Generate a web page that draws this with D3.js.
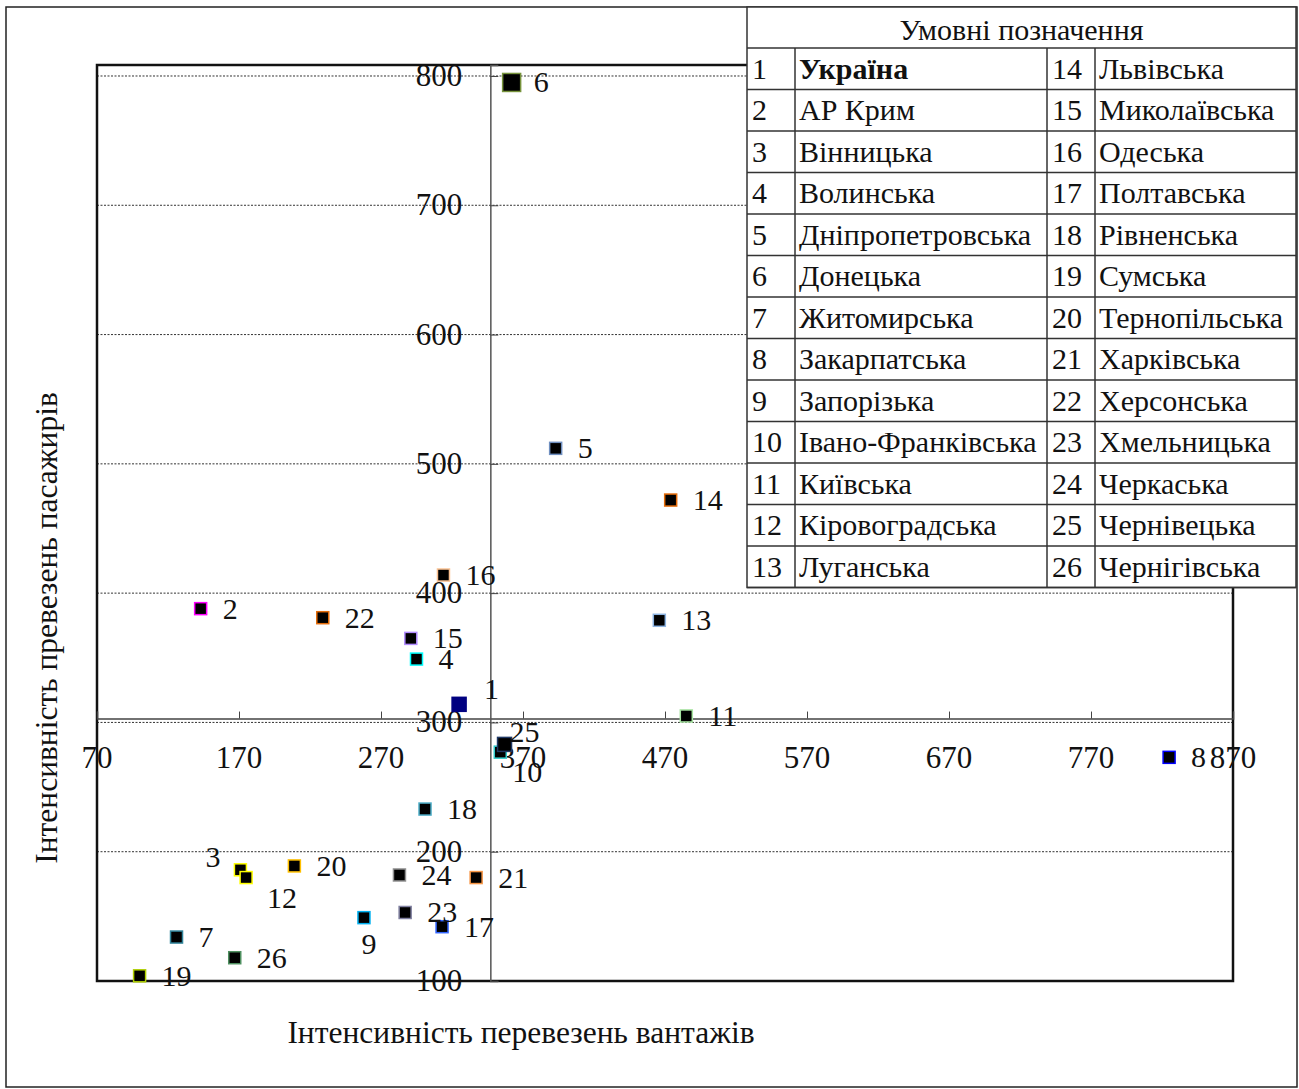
<!DOCTYPE html>
<html>
<head>
<meta charset="utf-8">
<script src="https://cdn.jsdelivr.net/npm/d3@7/dist/d3.min.js"></script>
<style>
  body { margin: 0; background: #fff; }
  text { font-family: "Liberation Serif", "Times New Roman", serif; fill: #111; }
</style>
</head>
<body>
<svg id="chart" width="1299" height="1089"></svg>
<script>
// region numbers, freight intensity (x) and passenger intensity (y)
const regionIds = [1, 2, 3, 4, 5, 6, 7, 8, 9, 10, 11, 12, 13, 14, 15, 16, 17, 18, 19, 20, 21, 22, 23, 24, 25, 26];
const cargo = [325, 143, 171, 295, 393, 362, 126, 825, 258, 354, 485, 175, 466, 474, 291, 314, 313, 301, 100, 209, 337, 229, 287, 283, 357, 167];
const passengers = [314, 388, 186, 349, 512, 795, 134, 273, 149, 277, 305, 180, 379, 472, 365, 414, 142, 233, 104, 189, 180, 381, 153, 182, 283, 118];
const regionNames = ["Україна", "АР Крим", "Вінницька", "Волинська", "Дніпропетровська", "Донецька",
  "Житомирська", "Закарпатська", "Запорізька", "Івано-Франківська", "Київська", "Кіровоградська",
  "Луганська", "Львівська", "Миколаївська", "Одеська", "Полтавська", "Рівненська", "Сумська",
  "Тернопільська", "Харківська", "Херсонська", "Хмельницька", "Черкаська", "Чернівецька", "Чернігівська"];
const xTickValues = [70, 170, 270, 370, 470, 570, 670, 770, 870];
const yTickValues = [100, 200, 300, 400, 500, 600, 700, 800];
const crossX = 347, crossY = 303;

// styling for the marks
const markStroke = ["#000080", "#ff00ff", "#ffff00", "#00ffff", "#6f8fc0", "#77933c", "#31859c", "#0000ff",
  "#00b0f0", "#33cccc", "#a6e3a0", "#ffff00", "#8db4e2", "#e46c0a", "#b28cff", "#fac090", "#3366ff",
  "#4bacc6", "#b0d000", "#ffc000", "#f79646", "#e46c0a", "#8080a0", "#909090", "#1f3864", "#4f9060"];
const labelShift = { 1: [25, -15], 3: [-20, -13, "end"], 12: [21, 20], 9: [5, 26, "middle"],
  10: [12, 20], 25: [5, -12] };

const svg = d3.select("#chart");
const plot = { left: 97, top: 65, right: 1233, bottom: 981 };

const x = d3.scaleLinear().domain([70, 870]).range([plot.left, plot.right]);
const y = d3.scaleLinear().domain([100, 808.5]).range([plot.bottom, plot.top]);

// outer frame
svg.append("rect").attr("x", 6).attr("y", 7).attr("width", 1291).attr("height", 1080)
  .attr("fill", "#fff").attr("stroke", "#222").attr("stroke-width", 1.5);

// gridlines
svg.append("g").selectAll("line").data(yTickValues).join("line")
  .attr("x1", plot.left).attr("x2", plot.right)
  .attr("y1", d => y(d)).attr("y2", d => y(d))
  .attr("stroke", "#333").attr("stroke-width", 1).attr("stroke-dasharray", "2,1.5");

// plot area border
svg.append("rect").attr("x", plot.left).attr("y", plot.top)
  .attr("width", plot.right - plot.left).attr("height", plot.bottom - plot.top)
  .attr("fill", "none").attr("stroke", "#111").attr("stroke-width", 2.5);

// crossing axes
const xAxis = d3.axisTop(x).tickValues(xTickValues).tickSize(7).tickFormat("");
const gx = svg.append("g").attr("transform", `translate(0,${y(crossY)})`).call(xAxis);
gx.select(".domain").attr("stroke", "#444").attr("stroke-width", 1.5);
gx.selectAll(".tick line").attr("stroke", "#444");

const yAxis = d3.axisRight(y).tickValues(yTickValues).tickSize(8).tickFormat("");
const gy = svg.append("g").attr("transform", `translate(${x(crossX)},0)`).call(yAxis);
gy.select(".domain").attr("stroke", "#555").attr("stroke-width", 1.5);
gy.selectAll(".tick line").attr("stroke", "#444");

// tick labels
svg.append("g").selectAll("text").data(xTickValues).join("text")
  .attr("x", d => x(d)).attr("y", y(crossY) + 49)
  .attr("text-anchor", "middle").attr("font-size", 31).text(d => d);

svg.append("g").selectAll("text").data(yTickValues).join("text")
  .attr("x", x(crossX) - 28).attr("y", d => y(d) + 10)
  .attr("text-anchor", "end").attr("font-size", 31).text(d => d);

// points
const pts = regionIds.map((id, i) => ({ id, cx: cargo[i], cy: passengers[i], i }));
const sizeOf = d => d.id === 6 ? 18 : (d.id === 1 || d.id === 25) ? 14 : 12;

svg.append("g").selectAll("rect").data(pts).join("rect")
  .attr("x", d => x(d.cx) - sizeOf(d) / 2).attr("y", d => y(d.cy) - sizeOf(d) / 2)
  .attr("width", sizeOf).attr("height", sizeOf)
  .attr("fill", d => d.id === 1 ? "#000080" : "#000")
  .attr("stroke", d => markStroke[d.i]).attr("stroke-width", 1.5);

svg.append("g").selectAll("text").data(pts).join("text")
  .attr("x", d => x(d.cx) + (labelShift[d.id] ? labelShift[d.id][0] : 22))
  .attr("y", d => y(d.cy) + (labelShift[d.id] ? labelShift[d.id][1] : 0) + 10)
  .attr("text-anchor", d => labelShift[d.id] && labelShift[d.id][2] ? labelShift[d.id][2] : "start")
  .attr("font-size", 30).text(d => d.id);

// axis titles
svg.append("text").attr("x", 521).attr("y", 1043).attr("text-anchor", "middle")
  .attr("font-size", 31.5).text("Інтенсивність перевезень вантажів");
svg.append("text").attr("transform", "translate(57,628) rotate(-90)").attr("text-anchor", "middle")
  .attr("font-size", 31.5).text("Інтенсивність превезень пасажирів");

// legend table
const tbl = { left: 747, right: 1296, top: 7, head: 48, rowH: 41.5 };
const cols = [747, 795, 1047, 1095, 1296];
const leg = svg.append("g");
leg.append("rect").attr("x", tbl.left).attr("y", tbl.top)
  .attr("width", tbl.right - tbl.left).attr("height", tbl.head + 13 * tbl.rowH - tbl.top)
  .attr("fill", "#fff").attr("stroke", "#333").attr("stroke-width", 1.5);
leg.append("text").attr("x", (tbl.left + tbl.right) / 2).attr("y", 40)
  .attr("text-anchor", "middle").attr("font-size", 30).text("Умовні позначення");
d3.range(14).forEach(r => {
  leg.append("line").attr("x1", tbl.left).attr("x2", tbl.right)
    .attr("y1", tbl.head + r * tbl.rowH).attr("y2", tbl.head + r * tbl.rowH)
    .attr("stroke", "#333").attr("stroke-width", 1.5);
});
cols.slice(1, 4).forEach(cx => {
  leg.append("line").attr("x1", cx).attr("x2", cx)
    .attr("y1", tbl.head).attr("y2", tbl.head + 13 * tbl.rowH)
    .attr("stroke", "#333").attr("stroke-width", 1.5);
});
regionIds.forEach((id, i) => {
  const c = i < 13 ? 0 : 2, r = i % 13;
  const ty = tbl.head + r * tbl.rowH + tbl.rowH / 2 + 10;
  leg.append("text").attr("x", cols[c] + 5).attr("y", ty).attr("font-size", 30).text(id);
  leg.append("text").attr("x", cols[c + 1] + 4).attr("y", ty).attr("font-size", 30)
    .attr("font-weight", id === 1 ? "bold" : null).text(regionNames[i]);
});
</script>
</body>
</html>
